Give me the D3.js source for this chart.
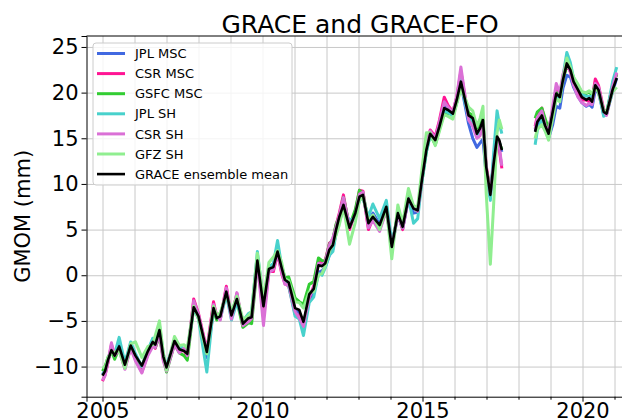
<!DOCTYPE html>
<html>
<head>
<meta charset="utf-8">
<script src="https://cdn.jsdelivr.net/npm/d3@7"></script>
<style>
  body { margin: 0; background: #fff; }
  svg { display: block; font-family: "DejaVu Sans", sans-serif; }
</style>
</head>
<body>
<svg id="chart" width="622" height="420"></svg>
<script>
// decimal years; null marks the gap between GRACE and GRACE-FO
const years = [
  2005.00, 2005.08, 2005.17, 2005.28, 2005.38, 2005.52, 2005.70, 2005.88, 2006.03, 2006.23,
  2006.42, 2006.57, 2006.65, 2006.78, 2006.90, 2007.00, 2007.25, 2007.40, 2007.55, 2007.65,
  2007.85, 2008.00, 2008.26, 2008.47, 2008.57, 2008.68, 2008.87, 2009.03, 2009.20, 2009.39,
  2009.56, 2009.66, 2009.84, 2010.03, 2010.20, 2010.34, 2010.47, 2010.60, 2010.70, 2010.82,
  2011.02, 2011.15, 2011.28, 2011.46, 2011.60, 2011.75, 2011.86, 2011.96, 2012.09, 2012.20,
  2012.30, 2012.40, 2012.53, 2012.72, 2012.90, 2013.03, 2013.14, 2013.31, 2013.45, 2013.66,
  2013.87, 2014.04, 2014.23, 2014.38, 2014.56, 2014.72, 2014.85, 2014.98, 2015.12, 2015.24,
  2015.40, 2015.53, 2015.68, 2015.80, 2015.95, 2016.07, 2016.20, 2016.33, 2016.44, 2016.57,
  2016.70, 2016.80, 2016.89, 2016.99, 2017.12, 2017.22, 2017.33, 2017.40, 2017.48,
  null,
  2018.52, 2018.59, 2018.73, 2018.83, 2018.94, 2019.07, 2019.18, 2019.29, 2019.39, 2019.51,
  2019.62, 2019.72, 2019.86, 2019.98, 2020.12, 2020.21, 2020.30, 2020.40, 2020.50, 2020.66,
  2020.75, 2020.94, 2021.07
];

const jplMsc = [
  -10.9, -10.4, -9.2, -8.4, -8.9, -7.5, -9.9, -7.6, -8.9, -10.2,
  -8.4, -7.0, -7.3, -5.9, -8.8, -10.0, -7.2, -7.9, -8.2, -8.4,
  -3.4, -4.6, -9.0, -3.8, -4.8, -4.5, -2.0, -4.5, -2.8, -5.0,
  -4.5, -4.4, 1.9, -3.6, 0.6, 1.0, 2.9, 0.6, -0.8, -1.0,
  -3.9, -4.1, -5.6, -2.6, -2.0, 0.3, 0.5, 0.9, 2.2, 2.9,
  4.8, 6.5, 7.6, 5.6, 6.6, 8.3, 8.6, 5.9, 6.8, 5.6,
  7.7, 3.0, 6.6, 5.1, 8.3, 6.8, 6.9, 10.6, 14.0, 15.7,
  14.9, 16.5, 18.5, 17.9, 17.5, 18.9, 21.0, 18.6, 16.6, 15.0,
  14.0, 14.5, 14.9, 11.0, 8.6, 12.5, 14.4, 14.6, 13.5,
  null,
  15.8, 16.4, 17.0, 16.0, 15.0, 16.5, 18.5, 18.3, 20.5, 21.9,
  21.7, 20.6, 19.6, 18.9, 18.5, 18.7, 18.4, 20.3, 20.0, 17.6,
  17.6, 20.1, 21.6
];

const csrMsc = [
  -11.6, -10.9, -9.6, -7.6, -8.9, -8.0, -10.2, -7.9, -9.2, -10.6,
  -8.6, -7.6, -8.0, -6.3, -9.2, -10.3, -7.5, -8.4, -8.2, -9.0,
  -2.6, -4.2, -8.2, -2.9, -4.5, -4.8, -1.2, -4.6, -2.0, -5.6,
  -5.0, -4.8, 1.8, -4.6, 0.5, 0.4, 2.4, 0.2, -0.9, -1.2,
  -4.3, -4.4, -5.4, -2.5, -1.2, 1.4, 1.5, 1.6, 3.5, 3.8,
  5.5, 6.8, 8.8, 5.0, 6.9, 9.3, 9.2, 5.0, 6.2, 5.0,
  7.2, 3.2, 6.7, 5.0, 8.6, 7.5, 7.2, 10.5, 14.0, 15.9,
  15.2, 17.0, 19.5, 18.6, 17.9, 19.5, 22.3, 19.5, 17.4, 16.8,
  15.6, 15.8, 16.8, 12.0, 9.2, 11.8, 14.5, 13.8, 11.7,
  null,
  16.3, 17.5, 18.3, 16.8, 15.8, 18.0, 20.3, 19.6, 21.5, 23.0,
  22.3, 21.0, 19.9, 19.2, 19.2, 19.0, 19.3, 21.5, 20.8, 18.2,
  17.6, 20.6, 22.1
];

const gsfcMsc = [
  -10.5, -10.0, -9.0, -8.3, -9.2, -8.0, -9.5, -7.8, -8.9, -10.0,
  -8.0, -7.7, -7.9, -6.7, -9.0, -10.6, -7.5, -8.5, -8.8, -9.3,
  -3.5, -4.6, -8.5, -3.8, -4.9, -4.3, -2.0, -4.2, -2.8, -5.7,
  -5.2, -5.3, 1.2, -3.0, 0.9, 1.2, 2.2, 1.0, -0.3, -0.2,
  -2.5, -2.9, -3.2, -1.0, -0.7, 1.9, 1.6, 1.5, 3.4, 4.0,
  5.6, 6.4, 8.5, 5.4, 7.2, 9.3, 9.0, 5.8, 6.3, 5.3,
  7.3, 3.0, 6.9, 5.5, 8.6, 7.4, 7.0, 10.2, 13.5, 15.4,
  14.3, 16.0, 17.8, 17.7, 17.6, 19.0, 20.8, 19.2, 17.8, 17.5,
  16.1, 16.5, 17.2, 11.6, 9.4, 12.0, 15.0, 14.5, 13.8,
  null,
  17.2, 17.9, 18.3, 17.2, 16.0, 18.1, 20.0, 19.8, 21.4, 23.0,
  22.6, 21.6, 20.7, 20.0, 19.9, 20.1, 19.7, 20.9, 20.4, 18.0,
  17.8, 20.8, 22.0
];

const jplSh = [
  -10.8, -10.6, -9.3, -8.0, -8.6, -6.8, -9.6, -7.3, -8.6, -10.0,
  -8.2, -6.9, -7.0, -5.5, -8.6, -10.0, -7.1, -7.8, -8.0, -8.3,
  -3.6, -4.8, -10.6, -3.4, -4.6, -4.8, -2.1, -4.9, -3.0, -5.0,
  -4.2, -4.0, 2.6, -3.0, 0.9, 1.3, 3.8, 1.0, -0.6, -1.2,
  -4.5, -4.8, -6.6, -3.0, -2.4, 0.2, 0.0, 0.8, 2.2, 2.6,
  4.6, 5.9, 7.2, 6.0, 6.3, 8.2, 8.5, 6.4, 7.8, 6.2,
  8.2, 3.6, 6.5, 5.2, 8.5, 5.7, 6.2, 10.2, 13.5, 15.3,
  14.6, 16.2, 18.0, 17.8, 17.5, 19.0, 21.6, 18.9, 17.2, 16.9,
  15.3, 15.9, 16.8, 11.4, 8.2, 13.3, 18.0, 16.6, 15.5,
  null,
  14.3, 15.9, 17.0, 16.3, 15.4, 17.5, 19.5, 19.3, 21.8, 24.4,
  23.3, 21.6, 20.6, 19.8, 19.6, 19.6, 19.5, 20.6, 20.5, 17.4,
  17.6, 21.2, 22.8
];

const csrSh = [
  -11.5, -11.0, -9.5, -7.4, -8.8, -8.2, -10.3, -8.0, -9.4, -10.7,
  -8.8, -7.8, -7.9, -6.5, -9.4, -10.5, -7.6, -8.5, -8.0, -8.8,
  -2.8, -4.3, -8.3, -3.2, -4.4, -4.9, -1.4, -4.8, -1.9, -5.5,
  -5.1, -4.7, 1.5, -5.5, 0.3, 0.6, 2.5, 0.3, -1.0, -1.0,
  -4.0, -4.7, -5.6, -2.4, -1.4, 1.3, 1.2, 1.4, 3.3, 4.1,
  5.3, 6.6, 8.5, 5.3, 6.6, 8.9, 9.1, 5.2, 6.0, 4.8,
  7.1, 3.0, 6.6, 5.2, 8.4, 7.4, 7.0, 10.6, 14.2, 15.8,
  15.0, 16.8, 19.0, 18.4, 17.9, 19.6, 22.8, 19.6, 17.0, 16.3,
  15.0, 15.3, 16.3, 11.8, 9.0, 12.0, 14.8, 14.0, 12.0,
  null,
  16.0, 17.3, 18.0, 16.5, 15.6, 18.5, 21.0, 20.0, 22.0, 23.5,
  22.2, 20.8, 19.5, 18.9, 18.6, 18.8, 18.7, 21.0, 20.6, 18.0,
  17.5, 20.6, 22.2
];

const gfzSh = [
  -10.0, -10.2, -9.0, -8.6, -8.4, -8.3, -10.2, -7.5, -7.3, -9.0,
  -7.8, -7.6, -6.6, -5.0, -8.5, -10.4, -6.7, -7.7, -7.6, -8.0,
  -3.4, -4.8, -8.6, -3.4, -4.4, -4.1, -2.1, -4.0, -2.3, -4.9,
  -4.4, -4.0, 2.4, -2.6, 1.4, 2.0, 2.7, 1.4, -0.4, -0.6,
  -2.9, -3.0, -3.6, -1.8, -1.8, 0.0, 0.2, 1.0, 2.6, 3.4,
  4.4, 5.5, 7.5, 3.4, 5.8, 8.2, 8.6, 6.0, 6.6, 5.0,
  7.4, 1.8, 7.7, 5.7, 9.5, 7.6, 7.5, 11.5, 15.6, 15.6,
  14.2, 15.8, 17.6, 17.4, 17.1, 18.8, 20.3, 19.4, 18.4, 18.0,
  16.3, 17.2, 18.5, 9.0, 1.2, 7.5, 15.6, 17.0, 16.0,
  null,
  15.0, 16.0, 16.5, 15.8, 14.8, 17.2, 19.3, 19.0, 21.5, 23.8,
  22.8, 21.7, 20.9, 20.1, 20.0, 20.2, 19.9, 20.6, 20.0, 18.0,
  17.8, 20.1, 20.6
];

const ensembleMean = [
  -11.0, -10.5, -9.3, -8.2, -8.8, -7.8, -9.8, -7.7, -8.8, -9.9,
  -8.3, -7.3, -7.6, -6.0, -8.9, -10.1, -7.2, -8.1, -8.3, -8.6,
  -3.5, -4.5, -8.4, -3.6, -4.7, -4.5, -1.8, -4.4, -2.6, -5.3,
  -4.7, -4.6, 1.6, -3.4, 0.7, 0.9, 2.6, 0.8, -0.5, -0.8,
  -3.6, -3.8, -5.1, -2.1, -1.5, 1.1, 1.0, 1.3, 2.8, 3.3,
  5.0, 6.4, 7.7, 5.2, 6.8, 8.6, 8.8, 5.7, 6.4, 5.5,
  7.5, 3.1, 6.8, 5.3, 8.4, 7.3, 7.1, 10.4, 13.7, 15.5,
  14.8, 16.3, 18.3, 18.1, 17.7, 19.2, 21.2, 19.2, 17.5, 17.2,
  15.5, 16.1, 17.0, 11.9, 8.8, 12.1, 15.2, 14.8, 13.7,
  null,
  15.7, 16.8, 17.5, 16.4, 15.5, 17.9, 19.9, 19.5, 21.4, 23.2,
  22.5, 21.2, 20.3, 19.5, 19.2, 19.4, 19.0, 20.8, 20.3, 17.9,
  17.7, 20.3, 21.6
];

const seriesNames = ["JPL MSC", "CSR MSC", "GSFC MSC", "JPL SH", "CSR SH", "GFZ SH", "GRACE ensemble mean"];
const seriesValues = [jplMsc, csrMsc, gsfcMsc, jplSh, csrSh, gfzSh, ensembleMean];
const seriesColors = ["#4169e1", "#ff1493", "#32cd32", "#48d1cc", "#da70d6", "#90ee90", "#000000"];

const xMajorTicks = [2005, 2010, 2015, 2020];
const xMinorTicks = d3.range(2005, 2022);
const yTicks = [-10, -5, 0, 5, 10, 15, 20, 25];

const margin = { top: 36, left: 86.5, bottom: 396.7, right: 633.7 };
const svg = d3.select("#chart");

const x = d3.scaleLinear().domain([2004.5, 2021.6]).range([margin.left, margin.right]);
const y = d3.scaleLinear().domain([-13.3, 26.2]).range([margin.bottom, margin.top]);

const minus = (d) => (d < 0 ? "\u2212" + Math.abs(d) : String(d));

// grid
const grid = svg.append("g").attr("class", "grid");
grid.append("g")
    .attr("transform", `translate(0,${margin.bottom})`)
    .call(d3.axisBottom(x).tickValues(xMinorTicks).tickSize(-(margin.bottom - margin.top)).tickFormat(""))
    .call((g) => g.select(".domain").remove());
grid.append("g")
    .attr("transform", `translate(${margin.left},0)`)
    .call(d3.axisLeft(y).tickValues(yTicks).tickSize(-(margin.right - margin.left)).tickFormat(""))
    .call((g) => g.select(".domain").remove());

// lines
const line = d3.line()
    .defined((d) => d.t !== null && d.v !== null)
    .x((d) => x(d.t))
    .y((d) => y(d.v));

const plot = svg.append("g");
seriesValues.forEach((values, i) => {
    plot.append("path")
        .datum(years.map((t, j) => ({ t: t, v: values[j] })))
        .attr("fill", "none")
        .attr("stroke", seriesColors[i])
        .attr("stroke-width", i === 6 ? 2.6 : 3)
        .attr("stroke-linejoin", "round")
        .attr("d", line);
});

// axes
svg.append("g")
    .attr("transform", `translate(0,${margin.bottom})`)
    .call(d3.axisBottom(x).tickValues(xMajorTicks).tickSize(5).tickPadding(1.5).tickFormat(d3.format("d")));
svg.append("g")
    .attr("transform", `translate(0,${margin.bottom})`)
    .call(d3.axisBottom(x).tickValues(xMinorTicks.filter((d) => d % 5 !== 0)).tickSize(3).tickFormat(""))
    .call((g) => g.select(".domain").remove());
svg.append("g")
    .attr("transform", `translate(${margin.left},0)`)
    .call(d3.axisLeft(y).tickValues(yTicks).tickSize(5).tickPadding(3).tickFormat(minus));

svg.selectAll(".tick text")
    .attr("font-family", "DejaVu Sans, sans-serif")
    .attr("font-size", 21)
    .attr("fill", "#000");
svg.selectAll(".domain, .tick line").attr("stroke", "#000");
grid.selectAll("line").attr("stroke", "#c8c8c8").attr("stroke-width", 1);

// top spine
svg.append("line")
    .attr("x1", margin.left).attr("x2", margin.right)
    .attr("y1", margin.top).attr("y2", margin.top)
    .attr("stroke", "#000");

// title and axis label
svg.append("text")
    .attr("x", (margin.left + margin.right) / 2)
    .attr("y", 32.5)
    .attr("text-anchor", "middle")
    .attr("font-size", 25)
    .text("GRACE and GRACE-FO");

svg.append("text")
    .attr("transform", `translate(29.5,${(margin.top + margin.bottom) / 2}) rotate(-90)`)
    .attr("text-anchor", "middle")
    .attr("font-size", 21)
    .text("GMOM (mm)");

// legend
const legend = svg.append("g").attr("transform", "translate(93,43)");
legend.append("rect")
    .attr("width", 199).attr("height", 142)
    .attr("rx", 3)
    .attr("fill", "#fff").attr("fill-opacity", 0.8)
    .attr("stroke", "#cccccc");
seriesNames.forEach((name, i) => {
    const row = legend.append("g").attr("transform", `translate(0,${10.5 + i * 20.1})`);
    row.append("line")
        .attr("x1", 4).attr("x2", 32)
        .attr("stroke", seriesColors[i])
        .attr("stroke-width", i === 6 ? 2.6 : 3);
    row.append("text")
        .attr("x", 42).attr("dy", "0.36em")
        .attr("font-size", 13)
        .text(name);
});
</script>
</body>
</html>
